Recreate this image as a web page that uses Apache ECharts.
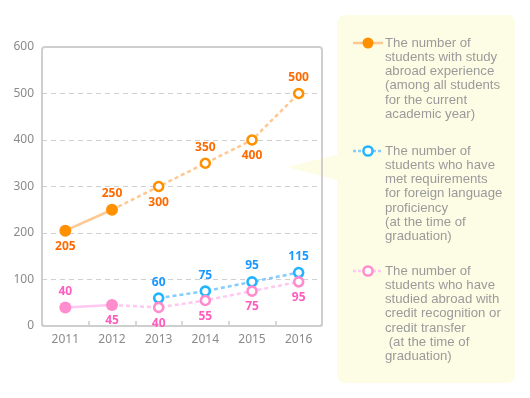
<!DOCTYPE html>
<html>
<head>
<meta charset="utf-8">
<script src="https://cdn.jsdelivr.net/npm/echarts@6/dist/echarts.min.js"></script>
<style>
  html, body { margin: 0; padding: 0; background: #fff; }
  #chart { width: 530px; height: 398px; }
</style>
</head>
<body>
<div id="chart"></div>
<script>
// 年份
const years = ['2011', '2012', '2013', '2014', '2015', '2016'];
// 留学经验学生数
const abroadValues = [205, 250, 300, 350, 400, 500];
// 外语达标学生数 (2013年起)
const languageValues = ['-', '-', 60, 75, 95, 115];
// 学分认定留学学生数
const creditValues = [40, 45, 40, 55, 75, 95];
// 实线(实绩)到这个下标为止, 之后为虚线
const lastActual = 1;
const yTicks = [0, 600, 100];

const legendNames = [
  'The number of\nstudents with study\nabroad experience\n(among all students\nfor the current\nacademic year)',
  'The number of\nstudents who have\nmet requirements\nfor foreign language\nproficiency\n(at the time of\ngraduation)',
  'The number of\nstudents who have\nstudied abroad with\ncredit recognition or\ncredit transfer\n (at the time of\ngraduation)'
];

const abroadLabelPos = ['bottom', 'top', 'bottom', 'top', 'bottom', 'top'];
const creditLabelPos = ['top', 'bottom', 'bottom', 'bottom', 'bottom', 'bottom'];

const styles = {
  abroad: { marker: '#ff9000', label: '#ff6a00', line: '#ffc890' },
  language: { marker: '#22b4ff', label: '#1a98ff', line: '#86ccff' },
  credit: { marker: '#ff8ccc', label: '#ff5cbe', line: '#ffc8f2' }
};

// 数据 -> 实线段 / 虚线段
function solidPart(values, positions) {
  return values.map((v, i) => {
    if (i > lastActual || v === '-') return '-';
    return { value: v, label: { show: true, position: positions[i] } };
  });
}
function dashedPart(values, positions, from) {
  return values.map((v, i) => {
    if (i < from || v === '-') return '-';
    if (i === lastActual && from === lastActual) {
      return { value: v, symbol: 'none', label: { show: false } };
    }
    return { value: v, label: { show: true, position: positions[i] } };
  });
}

function makeSeries(name, data, st, dashed) {
  return {
    name: name,
    type: 'line',
    data: data,
    symbol: 'circle',
    symbolSize: dashed ? 9 : 12,
    z: dashed ? 2 : 3,
    connectNulls: false,
    lineStyle: { color: st.line, width: 2.5, type: dashed ? [4, 3] : 'solid' },
    itemStyle: dashed
      ? { color: '#fff', borderColor: st.marker, borderWidth: 2.6 }
      : { color: st.marker, borderWidth: 0 },
    label: {
      color: st.label,
      fontSize: 12,
      fontWeight: 'bold',
      fontFamily: 'Noto Sans',
      distance: 4
    },
    emphasis: { disabled: true },
    animation: false
  };
}

const series = [
  makeSeries('abroad-plan', dashedPart(abroadValues, abroadLabelPos, lastActual), styles.abroad, true),
  makeSeries('abroad', solidPart(abroadValues, abroadLabelPos), styles.abroad, false),
  makeSeries('language', dashedPart(languageValues, languageValues.map(() => 'top'), 0), styles.language, true),
  makeSeries('credit-plan', dashedPart(creditValues, creditLabelPos, lastActual), styles.credit, true),
  makeSeries('credit', solidPart(creditValues, creditLabelPos), styles.credit, false)
];

// 图例 (graphic)
function legendItem(cy, st, dashed, text) {
  return [
    {
      type: 'line',
      shape: { x1: 353, y1: cy, x2: 383, y2: cy },
      style: { stroke: st.line, lineWidth: 2.5, lineDash: dashed ? [3, 2] : null },
      z: 10
    },
    {
      type: 'circle',
      shape: { cx: 368, cy: cy, r: dashed ? 4.6 : 5.5 },
      style: dashed
        ? { fill: '#fff', stroke: st.marker, lineWidth: 2.5 }
        : { fill: st.marker },
      z: 11
    },
    {
      type: 'text',
      x: 385,
      y: cy - 7,
      style: {
        text: text,
        fill: '#9a9a9a',
        font: '13.2px "Liberation Sans", Arial, sans-serif',
        lineHeight: 14.2,
        verticalAlign: 'top'
      },
      z: 10
    }
  ];
}

const chartDom = document.getElementById('chart');
const myChart = echarts.init(chartDom);

const option = {
  animation: false,
  grid: { left: 42, right: 208, top: 47, bottom: 72 },
  xAxis: {
    type: 'category',
    data: years,
    boundaryGap: true,
    axisLine: { show: false },
    axisTick: { show: true, inside: true, length: 5, lineStyle: { color: '#ccc', width: 1.5 } },
    axisLabel: { color: '#8a8a8a', fontSize: 12, fontFamily: 'Noto Sans', margin: 8 },
    splitLine: { show: false }
  },
  yAxis: {
    type: 'value',
    min: yTicks[0],
    max: yTicks[1],
    interval: yTicks[2],
    axisLine: { show: false },
    axisTick: { show: false },
    axisLabel: { color: '#8a8a8a', fontSize: 12, fontFamily: 'Noto Sans', margin: 8 },
    splitLine: { show: true, lineStyle: { color: '#d0d0d0', type: [5, 4], width: 1 } }
  },
  series: series,
  graphic: [
    // 图例背景
    {
      type: 'polygon',
      shape: { points: [[287, 167], [340, 154], [340, 181]] },
      style: { fill: '#fdfde6' },
      z: 0,
      silent: true
    },
    {
      type: 'rect',
      shape: { x: 337, y: 15, width: 178, height: 368, r: 8 },
      style: { fill: '#fdfde6' },
      z: 0,
      silent: true
    },
    // 绘图区边框
    {
      type: 'rect',
      shape: { x: 42, y: 47, width: 280, height: 279, r: 3 },
      style: { fill: null, stroke: '#cfcfcf', lineWidth: 2 },
      z: 1,
      silent: true
    }
  ]
    .concat(legendItem(43, styles.abroad, false, legendNames[0]))
    .concat(legendItem(151, styles.language, true, legendNames[1]))
    .concat(legendItem(271, styles.credit, true, legendNames[2]))
};

myChart.setOption(option);
</script>
</body>
</html>
